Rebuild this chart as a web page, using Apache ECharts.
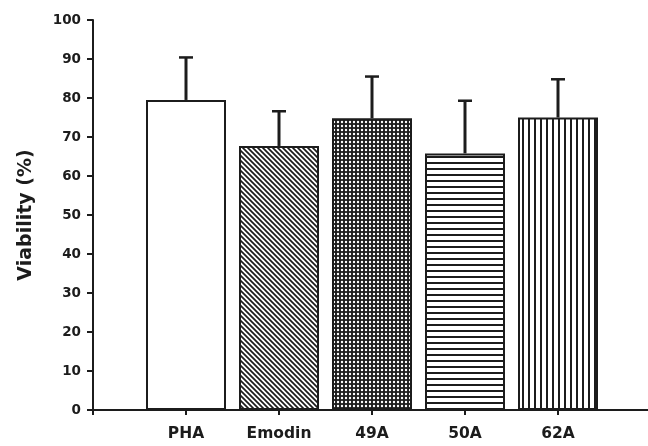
<!DOCTYPE html>
<html>
<head>
<meta charset="utf-8">
<script src="https://cdn.jsdelivr.net/npm/echarts@6/dist/echarts.min.js"></script>
<style>
html,body{margin:0;padding:0;background:#fff;}
#chart{width:648px;height:446px;}
</style>
</head>
<body>
<div id="chart"></div>
<script>
// ---- data ----
var categories = ['PHA', 'Emodin', '49A', '50A', '62A'];
var viability = [79.5, 67.7, 74.8, 65.8, 75.0];
var errorUp = [10.9, 8.9, 10.7, 13.5, 9.8];
var yTicks = [0, 10, 20, 30, 40, 50, 60, 70, 80, 90, 100];

var INK = '#1c1c1c';
var FONT = '"DejaVu Sans", Verdana, sans-serif';

function makeTile(w, h, draw) {
  var c = document.createElement('canvas');
  c.width = w; c.height = h;
  var ctx = c.getContext('2d');
  draw(ctx, w, h);
  return c;
}
var patDiag = makeTile(5, 5, function (ctx, w, h) {
  ctx.fillStyle = '#fff'; ctx.fillRect(0, 0, w, h);
  ctx.strokeStyle = INK; ctx.lineWidth = 1.7;
  ctx.beginPath();
  ctx.moveTo(-1, -1); ctx.lineTo(w + 1, h + 1);
  ctx.moveTo(-1 - w, -1); ctx.lineTo(1, h + 1);
  ctx.moveTo(w - 1, -1); ctx.lineTo(2 * w + 1, h + 1);
  ctx.stroke();
});
var patDots = makeTile(4, 4, function (ctx, w, h) {
  ctx.fillStyle = INK; ctx.fillRect(0, 0, w, h);
  ctx.fillStyle = '#fff';
  ctx.beginPath(); ctx.arc(2, 2, 1.2, 0, Math.PI * 2); ctx.fill();
});
var patHoriz = makeTile(6, 6, function (ctx, w, h) {
  ctx.fillStyle = '#fff'; ctx.fillRect(0, 0, w, h);
  ctx.fillStyle = INK; ctx.fillRect(0, 0, w, 2);
});
var patVert = makeTile(6, 6, function (ctx, w, h) {
  ctx.fillStyle = '#fff'; ctx.fillRect(0, 0, w, h);
  ctx.fillStyle = INK; ctx.fillRect(0, 0, 2, h);
});
var fills = [
  '#ffffff',
  { image: patDiag, repeat: 'repeat' },
  { image: patDots, repeat: 'repeat' },
  { image: patHoriz, repeat: 'repeat' },
  { image: patVert, repeat: 'repeat' }
];

var axisCats = [''].concat(categories).concat(['']);
var barData = ['-'];
viability.forEach(function (v, i) {
  barData.push({ value: v, itemStyle: { color: fills[i] } });
});
barData.push('-');
var errData = viability.map(function (v, i) { return [i + 1, v, v + errorUp[i]]; });

var chart = echarts.init(document.getElementById('chart'), null, { renderer: 'canvas' });
chart.setOption({
  animation: false,
  backgroundColor: '#fff',
  grid: { left: 93, width: 558, top: 20, height: 390, containLabel: false, outerBoundsMode: 'none' },
  xAxis: {
    type: 'category',
    data: axisCats,
    boundaryGap: false,
    axisLine: { lineStyle: { color: INK, width: 2 } },
    axisTick: { show: true, length: 5, lineStyle: { color: INK, width: 2 }, interval: 0 },
    axisLabel: {
      interval: 0, margin: 16, color: INK,
      fontFamily: FONT, fontWeight: 'bold', fontSize: 15.5
    },
    splitLine: { show: false }
  },
  yAxis: {
    type: 'value',
    min: yTicks[0], max: yTicks[yTicks.length - 1], interval: 10,
    name: 'Viability (%)',
    nameLocation: 'middle',
    nameGap: 57,
    nameTextStyle: {
      color: INK, fontFamily: FONT, fontWeight: 'bold', fontSize: 19
    },
    axisLine: { show: true, lineStyle: { color: INK, width: 2 } },
    axisTick: { show: true, length: 6, lineStyle: { color: INK, width: 2 } },
    axisLabel: {
      margin: 12, color: INK,
      fontFamily: FONT, fontWeight: 'bold', fontSize: 13.5
    },
    splitLine: { show: false }
  },
  series: [
    {
      type: 'bar',
      data: barData,
      barWidth: 80,
      itemStyle: { borderColor: INK, borderWidth: 2 },
      z: 2
    },
    {
      type: 'custom',
      data: errData,
      z: 3,
      renderItem: function (params, api) {
        var x = api.value(0);
        var lo = api.coord([x, api.value(1)]);
        var hi = api.coord([x, api.value(2)]);
        var half = 7;
        return {
          type: 'group',
          children: [
            { type: 'line', shape: { x1: lo[0], y1: lo[1], x2: hi[0], y2: hi[1] },
              style: { stroke: INK, lineWidth: 3 } },
            { type: 'line', shape: { x1: hi[0] - half, y1: hi[1], x2: hi[0] + half, y2: hi[1] },
              style: { stroke: INK, lineWidth: 2.5 } }
          ]
        };
      }
    }
  ]
});
</script>
</body>
</html>
